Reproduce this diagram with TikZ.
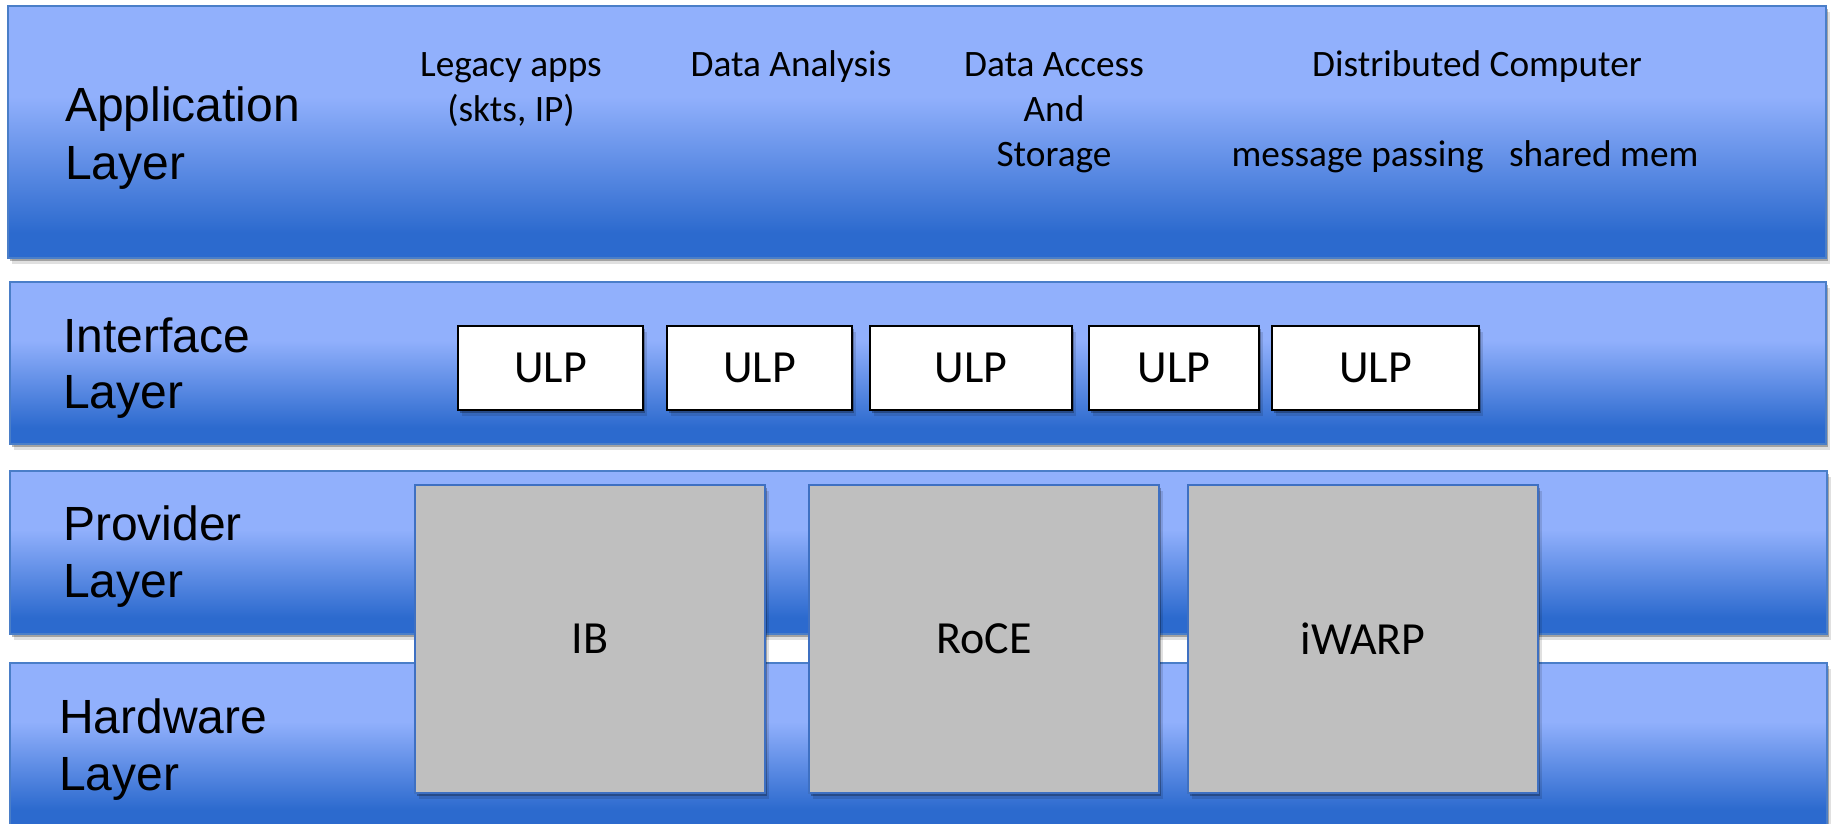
\documentclass[tikz,border=0pt]{standalone}
\usepackage{fontspec}
\usetikzlibrary{shadows}
\newfontfamily\labfont{Liberation Sans}
\newfontfamily\calfont{Carlito}
\definecolor{llight}{RGB}{145,176,252}
\definecolor{ldark}{RGB}{44,106,206}
\definecolor{lborder}{RGB}{74,126,200}
\definecolor{boxgray}{RGB}{191,191,191}
\definecolor{boxborder}{RGB}{62,112,194}
\pgfdeclareverticalshading{layershade}{100bp}{color(0bp)=(ldark); color(30bp)=(ldark); color(57bp)=(llight); color(100bp)=(llight)}
\begin{document}
\begin{tikzpicture}[x=1pt,y=-1pt,
  softshadow/.style={drop shadow={shadow xshift=2pt,shadow yshift=-3pt,opacity=.28,fill=black},
                     drop shadow={shadow xshift=4pt,shadow yshift=-6pt,opacity=.12,fill=black}},
  layer/.style={rectangle, anchor=north west, inner sep=0pt, outer sep=0pt, shade, shading=layershade,
                draw=lborder, line width=1.5pt, softshadow},
  laytext/.style={anchor=base west, inner sep=0pt, font=\labfont\fontsize{48}{57}\selectfont},
  apptext/.style={anchor=base, inner sep=0pt, font=\calfont\fontsize{37.3}{45}\selectfont},
  ulpbox/.style={rectangle, draw=black, line width=2pt, fill=white, minimum height=84pt, inner sep=0pt,
                 font=\calfont\fontsize{46}{55}\selectfont, softshadow},
  hwbox/.style={rectangle, draw=boxborder, line width=2pt, fill=boxgray, minimum width=350pt, minimum height=308pt,
                inner sep=0pt, font=\calfont\fontsize{46}{55}\selectfont, softshadow}
]
\useasboundingbox (0,0) rectangle (1834,823);
% layers
\node[layer, minimum width=1818pt, minimum height=252pt] (app) at (8,6) {};
\node[layer, minimum width=1816pt, minimum height=162pt] (iface) at (10,282) {};
\node[layer, minimum width=1817pt, minimum height=163pt] (prov) at (10,471) {};
\node[layer, minimum width=1817pt, minimum height=163pt] (hw) at (10,663) {};
% layer labels
\node[laytext] (appl1) at (65,121) {Application};
\node[laytext] (appl2) at (65,179) {Layer};
\node[laytext] (ifl1) at (63,352) {Interface};
\node[laytext] (ifl2) at (63,408) {Layer};
\node[laytext] (prl1) at (63,540) {Provider};
\node[laytext] (prl2) at (63,597) {Layer};
\node[laytext] (hwl1) at (59,733) {Hardware};
\node[laytext] (hwl2) at (59,790) {Layer};
% application texts
\node[apptext] (leg1) at (511,76) {Legacy apps};
\node[apptext] (leg2) at (511,121) {(skts, IP)};
\node[apptext] (ana) at (791,76) {Data Analysis};
\node[apptext] (acc1) at (1054,76) {Data Access};
\node[apptext] (acc2) at (1054,121) {And};
\node[apptext] (acc3) at (1054,166) {Storage};
\node[apptext] (dist1) at (1477,76) {Distributed Computer};
\node[apptext] (dist2) at (1465,166) {message passing\hspace{17pt} shared mem};
% ULP boxes
\node[ulpbox, minimum width=185pt] (ulp1) at (550.5,368) {ULP};
\node[ulpbox, minimum width=185pt] (ulp2) at (759.5,368) {ULP};
\node[ulpbox, minimum width=202pt] (ulp3) at (971,368) {ULP};
\node[ulpbox, minimum width=170pt] (ulp4) at (1174,368) {ULP};
\node[ulpbox, minimum width=207pt] (ulp5) at (1375.5,368) {ULP};
% provider / hardware boxes
\node[hwbox] (ib) at (590,639) {IB};
\node[hwbox] (roce) at (984,639) {RoCE};
\node[hwbox] (iwarp) at (1363,639) {iWARP};
\end{tikzpicture}
\end{document}
